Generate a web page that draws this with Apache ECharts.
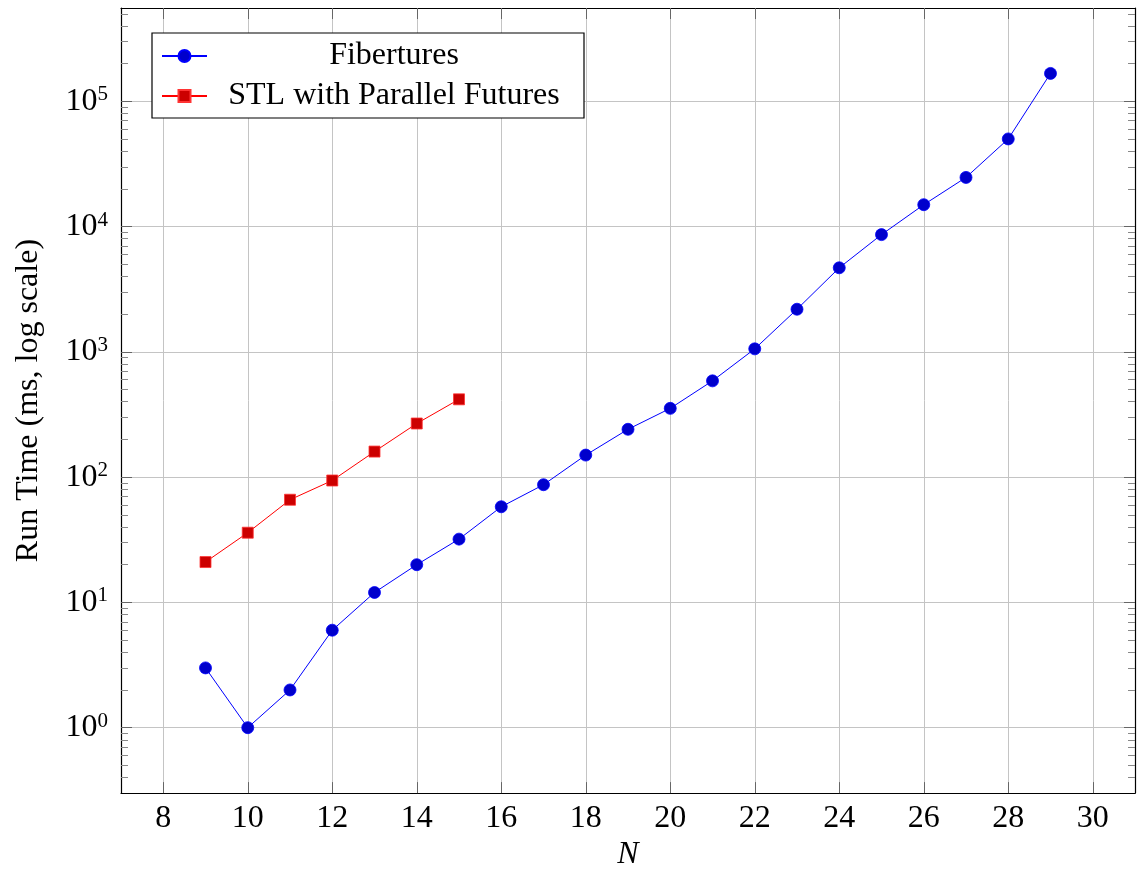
<!DOCTYPE html>
<html>
<head>
<meta charset="utf-8">
<script src="https://cdn.jsdelivr.net/npm/echarts@6/dist/echarts.min.js"></script>
<style>
  html, body { margin: 0; padding: 0; background: #fff; }
  #chart { width: 1143px; height: 876px; }
</style>
</head>
<body>
<div id="chart"></div>
<script>
// ---- data ----
const fiberturesN = [9, 10, 11, 12, 13, 14, 15, 16, 17, 18, 19, 20, 21, 22, 23, 24, 25, 26, 27, 28, 29];
const fiberturesMs = [3, 1, 2, 6, 12, 20, 32, 58, 87, 150, 241, 354, 587, 1057, 2190, 4690, 8630, 14960, 24700, 50100, 167000];
const stlN = [9, 10, 11, 12, 13, 14, 15];
const stlMs = [21, 36, 66, 94, 160, 268, 418];

const seriesNames = ['Fibertures', 'STL with Parallel Futures'];
const xTickValues = [8, 10, 12, 14, 16, 18, 20, 22, 24, 26, 28, 30];
const yTickValues = [1, 10, 100, 1000, 10000, 100000];
const yMinorMultipliers = [2, 3, 4, 5, 6, 7, 8, 9];
const yMinorDecades = [0.1, 1, 10, 100, 1000, 10000, 100000];

const xMin = 7, xMax = 31;
const yMin = 0.3004, yMax = 556000;

// ---- helpers ----
const yMinorTicks = [];
yMinorDecades.forEach(d => yMinorMultipliers.forEach(m => {
  const v = +(d * m).toPrecision(6);
  if (v > yMin && v < yMax) yMinorTicks.push(v);
}));
const pairs = (xs, ys) => xs.map((x, i) => [x, ys[i]]);

const FONT = '"Liberation Serif", "DejaVu Serif", serif';
const FS = 32;
const TICK_COLOR = '#666';
const MINOR_COLOR = '#888';

function yMajorAxis(position, withLabels) {
  return {
    type: 'log', logBase: 10, position: position, min: yMin, max: yMax,
    axisLine: { show: true, onZero: false, lineStyle: { color: '#000', width: 1.2 } },
    axisTick: { show: true, inside: true, length: 11, customValues: yTickValues,
                lineStyle: { color: TICK_COLOR, width: 1 } },
    axisLabel: withLabels ? {
      show: true, customValues: yTickValues, margin: 13,
      formatter: v => '{b|10}{s|' + Math.round(Math.log10(v)) + '}',
      rich: {
        b: { fontFamily: FONT, fontSize: FS, lineHeight: 34, color: '#000' },
        s: { fontFamily: FONT, fontSize: 21, lineHeight: 19, verticalAlign: 'top', color: '#000' }
      }
    } : { show: false },
    splitLine: withLabels ? { show: true, lineStyle: { color: '#c4c4c4', width: 1 } } : { show: false },
    minorTick: { show: false }, minorSplitLine: { show: false },
    name: withLabels ? 'Run Time (ms, log scale)' : '',
    nameLocation: 'middle', nameGap: 76, nameRotate: 90,
    nameTextStyle: { fontFamily: FONT, fontSize: FS, color: '#000' }
  };
}
function yMinorAxis(position) {
  return {
    type: 'log', logBase: 10, position: position, min: yMin, max: yMax,
    axisLine: { show: false },
    axisTick: { show: true, inside: true, length: 7, customValues: yMinorTicks,
                lineStyle: { color: MINOR_COLOR, width: 1 } },
    axisLabel: { show: false },
    splitLine: { show: false }
  };
}
function xAxisDef(position, withLabels) {
  return {
    type: 'value', position: position, min: xMin, max: xMax,
    axisLine: { show: true, onZero: false, lineStyle: { color: '#000', width: 1.2 } },
    axisTick: { show: true, inside: true, length: 11, customValues: xTickValues,
                lineStyle: { color: TICK_COLOR, width: 1 } },
    axisLabel: withLabels ? { show: true, customValues: xTickValues, margin: 9,
      fontFamily: FONT, fontSize: FS, color: '#000' } : { show: false },
    splitLine: withLabels ? { show: true, lineStyle: { color: '#c4c4c4', width: 1 } } : { show: false },
    name: withLabels ? 'N' : '',
    nameLocation: 'middle', nameGap: 45,
    nameTextStyle: { fontFamily: FONT, fontSize: FS, fontStyle: 'italic', color: '#000' }
  };
}

const chart = echarts.init(document.getElementById('chart'), null, { renderer: 'canvas' });
chart.setOption({
  animation: false,
  backgroundColor: '#fff',
  grid: { left: 121, right: 8, top: 8, bottom: 81, containLabel: false },
  xAxis: [xAxisDef('bottom', true), xAxisDef('top', false)],
  yAxis: [yMajorAxis('left', true), yMinorAxis('left'), yMajorAxis('right', false), yMinorAxis('right')],
  legend: {
    orient: 'vertical', left: 152, top: 33,
    padding: [7, 8, 6, 9], itemGap: 8,
    itemWidth: 45, itemHeight: 15,
    borderColor: '#000', borderWidth: 1.2, backgroundColor: '#fff',
    data: seriesNames,
    formatter: name => '{c|' + name + '}',
    textStyle: {
      rich: { c: { width: 364, align: 'center', fontFamily: FONT, fontSize: FS, lineHeight: 36, color: '#000' } }
    },
    selectedMode: false
  },
  series: [
    {
      name: seriesNames[0], type: 'line', xAxisIndex: 0, yAxisIndex: 0,
      data: pairs(fiberturesN, fiberturesMs),
      symbol: 'circle', symbolSize: 12, showSymbol: true,
      lineStyle: { color: '#0000ff', width: 1 },
      itemStyle: { color: '#0000cc', borderColor: '#0000ff', borderWidth: 0.8 },
      emphasis: { disabled: true }, z: 3
    },
    {
      name: seriesNames[1], type: 'line', xAxisIndex: 0, yAxisIndex: 0,
      data: pairs(stlN, stlMs),
      symbol: 'rect', symbolSize: 11, showSymbol: true,
      lineStyle: { color: '#ff0000', width: 1 },
      itemStyle: { color: '#cc0000', borderColor: '#ff3333', borderWidth: 0.8 },
      emphasis: { disabled: true }, z: 4
    }
  ]
});
</script>
</body>
</html>
